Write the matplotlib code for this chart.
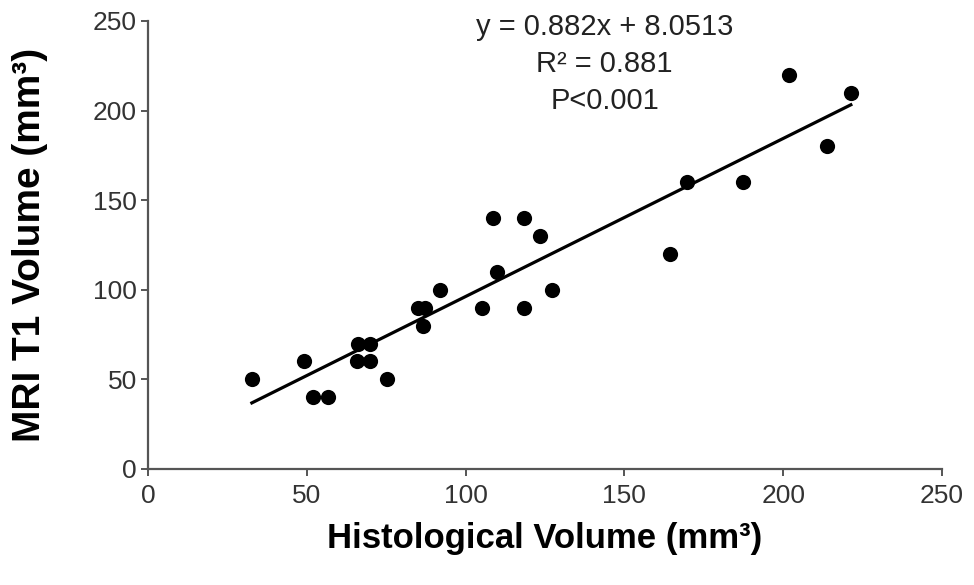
import matplotlib

matplotlib.use("Agg")

import matplotlib.pyplot as plt

plt.rcParams["font.family"] = ["Liberation Sans", "DejaVu Sans"]

# histological vs MRI T1 volume (mm^3)
histo_volume = [32.7, 49.1, 52.0, 56.7, 65.8, 66.1, 69.9, 69.9, 75.3, 85.0, 87.2, 86.6,
                92.0, 105.2, 108.6, 109.9, 118.4, 118.4, 123.4, 127.2, 164.4, 169.7,
                187.3, 201.8, 213.8, 221.3]
mri_volume = [50, 60, 40, 40, 60, 70, 60, 70, 50, 90, 90, 80,
              100, 90, 140, 110, 140, 90, 130, 100, 120, 160,
              160, 220, 180, 210]
slope = 0.882
intercept = 8.0513
x_ticks = [0, 50, 100, 150, 200, 250]
y_ticks = [0, 50, 100, 150, 200, 250]
annotation = "y = 0.882x + 8.0513\nR² = 0.881\nP<0.001"

fig = plt.figure(figsize=(9.74, 5.85), dpi=100)
ax = fig.add_axes([148 / 974, 1 - 469 / 585, (942 - 148) / 974, (469 - 21) / 585])

ax.scatter(histo_volume, mri_volume, s=120, color="black", zorder=3, linewidths=0)
x_fit = [min(histo_volume), max(histo_volume)]
ax.plot(x_fit, [slope * x + intercept for x in x_fit], color="black", linewidth=2.3, zorder=2)

ax.set_xlim(0, 250)
ax.set_ylim(0, 250)
ax.set_xticks(x_ticks)
ax.set_yticks(y_ticks)
for side in ("top", "right"):
    ax.spines[side].set_visible(False)
for side in ("left", "bottom"):
    ax.spines[side].set_color("#555555")
    ax.spines[side].set_linewidth(1.6)
ax.tick_params(direction="out", length=5, width=1.4, color="#555555",
               labelsize=19, labelcolor="#333333")
ax.tick_params(axis="y", pad=3)
ax.tick_params(axis="x", pad=6)

ax.set_xlabel("Histological Volume (mm³)", fontsize=25, fontweight="bold", labelpad=10)
ax.set_ylabel("MRI T1 Volume (mm³)", fontsize=28, fontweight="bold")
ax.yaxis.set_label_coords(-0.126, 0.5)

ax.text(143.8, 226, annotation, ha="center", va="center", multialignment="center",
        fontsize=21, color="#222222", linespacing=1.4)

fig.savefig("out.png", dpi=100)
plt.close(fig)
